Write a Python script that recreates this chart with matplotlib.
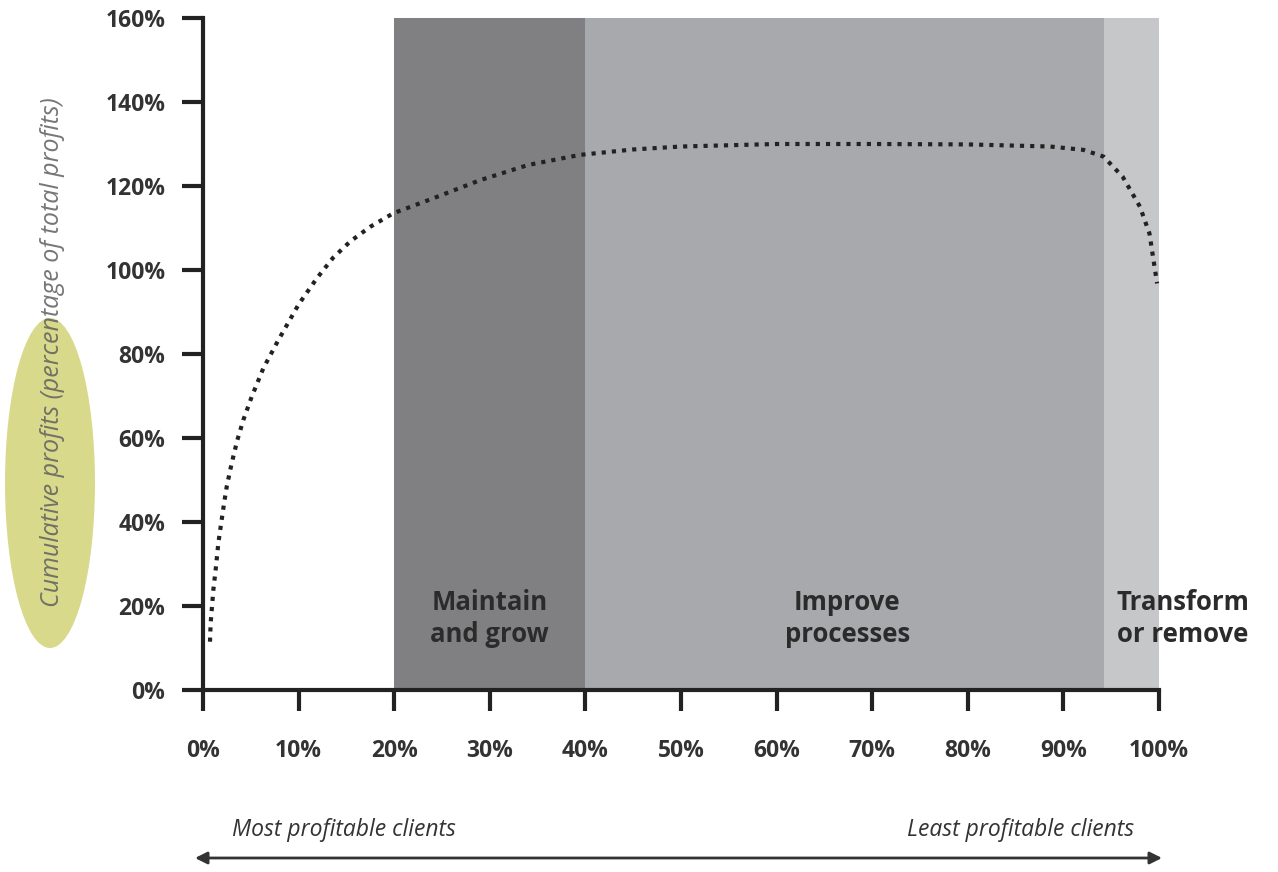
import matplotlib
matplotlib.use("Agg")
import matplotlib.pyplot as plt
from matplotlib.patches import Ellipse

plt.rcParams['font.family'] = ['Open Sans', 'DejaVu Sans']

# share of clients (x, %) and cumulative profits (y, %)
clients_pct = [0.73, 0.8, 0.94, 1.08, 1.36, 1.6, 1.85, 2.2, 2.48, 3.0, 3.59, 4.22,
               5.09, 6.31, 7.88, 10.0, 11.9, 13.6, 15.4, 17.5, 19.9, 24.0, 29.0,
               34.0, 39.4, 45.0, 50.0, 60.0, 70.0, 80.0, 88.6, 92.1, 94.2, 96.2,
               98.0, 99.0, 99.8]
profits_pct = [11.5, 15.9, 19.8, 23.8, 29.4, 34.9, 38.9, 44.4, 48.4, 54.0, 59.5, 64.3,
               69.8, 76.6, 83.3, 91.8, 98.0, 102.9, 106.8, 110.3, 113.5, 117.0, 121.4,
               125.0, 127.4, 128.7, 129.4, 130.0, 130.0, 129.9, 129.4, 128.6, 127.0, 122.2,
               115.1, 108.7, 96.8]

# zones: start, end, label, colour
zone_start = [20, 40, 94.2]
zone_end = [40, 94.2, 100]
zone_labels = ["Maintain\nand grow", "Improve\nprocesses", "Transform\nor remove"]
zone_colors = ["#808083", "#a8a9ac", "#c6c7c9"]

x_ticks = list(range(0, 101, 10))
y_ticks = list(range(0, 161, 20))

fig = plt.figure(figsize=(12.78, 8.72), dpi=100)
ax = fig.add_axes([203 / 1278, 1 - 690 / 872, (1159 - 203) / 1278, (690 - 18) / 872])

for s, e, c in zip(zone_start, zone_end, zone_colors):
    ax.axvspan(s, e, ymin=0, ymax=1, color=c, lw=0, zorder=0)

ax.plot(clients_pct, profits_pct, color="#222222", lw=3.0, dashes=(1, 1.45),
        dash_capstyle="butt", zorder=3, clip_on=False)

# zone labels
lbl_kw = dict(va="center", fontsize=18.5, fontweight="bold", color="#2b2b2b",
              linespacing=1.25)
ax.text(30, 17, zone_labels[0], ha="center", **lbl_kw)
ax.text(67.4, 17, zone_labels[1], ha="center", **lbl_kw)
ax.text(95.6, 17, zone_labels[2], ha="left", clip_on=False, **lbl_kw)

ax.set_xlim(0, 100)
ax.set_ylim(0, 160)
ax.set_xticks(x_ticks)
ax.set_xticklabels([f"{t}%" for t in x_ticks])
ax.set_yticks(y_ticks)
ax.set_yticklabels([f"{t}%" for t in y_ticks])

for side in ["top", "right"]:
    ax.spines[side].set_visible(False)
for side in ["left", "bottom"]:
    ax.spines[side].set_linewidth(3)
    ax.spines[side].set_color("#222222")

ax.tick_params(axis="both", length=15, width=3, color="#222222",
               labelsize=16.5, labelcolor="#333333")
ax.tick_params(axis="x", pad=20)
ax.tick_params(axis="y", pad=12)
for lbl in ax.get_xticklabels() + ax.get_yticklabels():
    lbl.set_fontweight("bold")

# highlighted y axis title
fig.patches.append(Ellipse((50 / 1278, 1 - 483 / 872), 90 / 1278, 330 / 872,
                           transform=fig.transFigure, facecolor="#d9d98c",
                           edgecolor="none", zorder=0))
fig.text(53 / 1278, 1 - 352 / 872, "Cumulative profits (percentage of total profits)",
         rotation=90, ha="center", va="center", fontsize=18, style="italic",
         color="#5e5e5e", alpha=0.85)

# bottom arrow
ax.annotate("", xy=(1162 / 1278, 1 - 858 / 872), xytext=(195 / 1278, 1 - 858 / 872),
            xycoords="figure fraction", textcoords="figure fraction",
            arrowprops=dict(arrowstyle="<|-|>", color="#333333", lw=2,
                            mutation_scale=18, shrinkA=0, shrinkB=0))
fig.text(232 / 1278, 1 - 830 / 872, "Most profitable clients", ha="left", va="center",
         fontsize=16.5, style="italic", color="#333333")
fig.text(1134 / 1278, 1 - 830 / 872, "Least profitable clients", ha="right", va="center",
         fontsize=16.5, style="italic", color="#333333")

fig.savefig("out.png", dpi=100)
